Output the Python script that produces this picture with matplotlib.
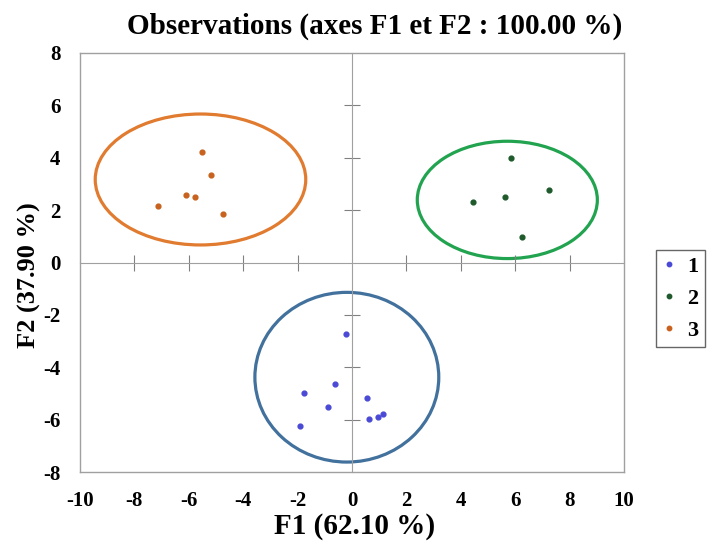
import matplotlib
matplotlib.use("Agg")
import matplotlib.pyplot as plt
from matplotlib.patches import Ellipse
from matplotlib.lines import Line2D

plt.rcParams['font.family'] = ['Liberation Serif', 'DejaVu Serif']
plt.rcParams['axes.unicode_minus'] = False

# observation coordinates per class
g1_x = [-0.23, -0.63, -1.75, 0.56, -0.87, -1.91, 0.61, 0.96, 1.14]
g1_y = [-2.74, -4.65, -4.99, -5.17, -5.52, -6.25, -5.99, -5.91, -5.77]
g2_x = [5.86, 7.23, 5.61, 4.44, 6.25]
g2_y = [3.98, 2.75, 2.50, 2.32, 0.98]
g3_x = [-5.53, -5.18, -6.11, -5.77, -7.14, -4.74]
g3_y = [4.23, 3.33, 2.59, 2.50, 2.16, 1.85]

# confidence ellipses: centre x, centre y, width, height
ell1 = (-0.19, -4.38, 6.76, 6.48)
ell2 = (5.71, 2.39, 6.62, 4.48)
ell3 = (-5.57, 3.17, 7.74, 5.0)

labels = ['1', '2', '3']
pt_colors = ['#4a4ad6', '#1e5a2c', '#c8621e']
ell_colors = ['#41719c', '#22a34f', '#e07b30']

xticks = [-10, -8, -6, -4, -2, 0, 2, 4, 6, 8, 10]
yticks = [-8, -6, -4, -2, 0, 2, 4, 6, 8]

fig = plt.figure(figsize=(7.07, 5.42), dpi=100)
pos = [80/707, 70/542, 544/707, 419/542]

# frame axes with the labels on the box
ax2 = fig.add_axes(pos)
ax2.set_xlim(-10, 10)
ax2.set_ylim(-8, 8)
ax2.set_xticks(xticks)
ax2.set_yticks(yticks)
ax2.tick_params(length=0, labelsize=15, pad=14)
for lab in ax2.get_xticklabels() + ax2.get_yticklabels():
    lab.set_fontweight('bold')
for s in ax2.spines.values():
    s.set_color('#a0a0a0')
    s.set_linewidth(1)
ax2.set_xlabel('F1 (62.10 %)', fontsize=21, fontweight='bold', va='top')
ax2.xaxis.set_label_coords(0.505, -0.097)
ax2.set_ylabel('F2 (37.90 %)', fontsize=19, fontweight='bold')
ax2.yaxis.set_label_coords(-0.072, 0.47)
ax2.set_title('Observations (axes F1 et F2 : 100.00 %)', fontsize=21,
              fontweight='bold', x=0.542, pad=14)

# axes with the centred cross
ax = fig.add_axes(pos)
ax.set_xlim(-10, 10)
ax.set_ylim(-8, 8)
ax.patch.set_visible(False)
ax.spines['top'].set_visible(False)
ax.spines['right'].set_visible(False)
ax.spines['left'].set_position(('data', 0))
ax.spines['bottom'].set_position(('data', 0))
ax.spines['left'].set_color('#a0a0a0')
ax.spines['bottom'].set_color('#a0a0a0')
ax.set_xticks([t for t in xticks if t not in (-10, 0, 10)])
ax.set_yticks([t for t in yticks if t not in (-8, 0, 8)])
ax.tick_params(direction='inout', length=11, color='#808080', labelleft=False,
               labelbottom=False)

groups = [(g1_x, g1_y, ell1), (g2_x, g2_y, ell2), (g3_x, g3_y, ell3)]
for i, (gx, gy, e) in enumerate(groups):
    ax.add_patch(Ellipse((e[0], e[1]), e[2], e[3], fill=False,
                         edgecolor=ell_colors[i], linewidth=2.3))
    ax.scatter(gx, gy, s=12, color=pt_colors[i], zorder=3)

handles = [Line2D([], [], linestyle='none', marker='o', markersize=3.2,
                  color=c) for c in pt_colors]
leg = fig.legend(handles, labels, loc='upper left',
                 bbox_to_anchor=(656/707, 1 - 250/542), frameon=True,
                 fancybox=False, edgecolor='#404040', handlelength=0.6,
                 handletextpad=0.5, labelspacing=0.5, borderpad=0.3,
                 borderaxespad=0, prop={'size': 16, 'weight': 'bold'})
leg.get_frame().set_linewidth(1)

fig.savefig('out.png', dpi=100)
